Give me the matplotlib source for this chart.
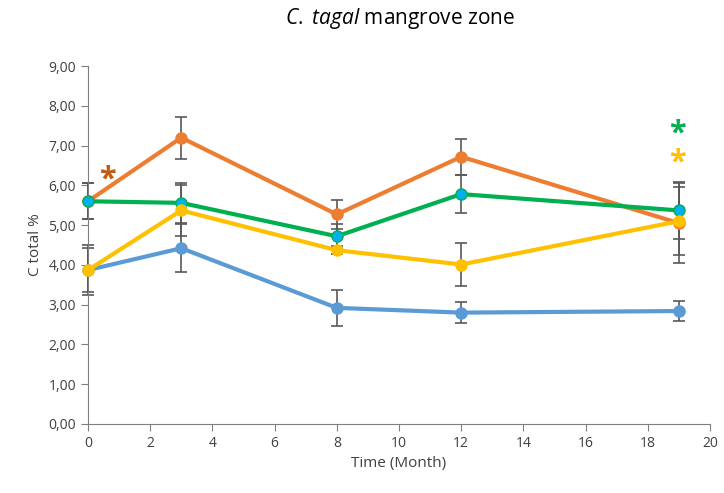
import matplotlib
matplotlib.use("Agg")
from matplotlib import pyplot as plt
from matplotlib.ticker import FuncFormatter

# ------------- Data ---------------

months = [0, 3, 8, 12, 19]

blue = [3.87, 4.42, 2.92, 2.80, 2.84]
blue_err = [0.62, 0.60, 0.45, 0.27, 0.25]

orange = [5.60, 7.20, 5.27, 6.72, 5.05]
orange_err = [0.45, 0.53, 0.36, 0.45, 1.00]

green = [5.60, 5.56, 4.72, 5.78, 5.37]
green_err = [0.45, 0.50, 0.30, 0.47, 0.72]

yellow = [3.87, 5.37, 4.37, 4.01, 5.10]
yellow_err = [0.55, 0.65, 0.10, 0.55, 0.86]

# ------------- Plot ---------------

plt.rcParams['font.family'] = ['Open Sans', 'DejaVu Sans']
plt.rcParams['mathtext.fontset'] = 'custom'
plt.rcParams['mathtext.it'] = 'Open Sans:italic'
plt.rcParams['mathtext.rm'] = 'Open Sans'

fig = plt.figure(figsize=(7.24, 4.93), dpi=100)
ax = fig.add_axes([0.1215, 0.14, 0.8592, 0.726])

series = [
	(blue, blue_err, '#5B9BD5', '#5B9BD5'),
	(orange, orange_err, '#ED7D31', '#ED7D31'),
	(green, green_err, '#00B050', '#00B0F0'),
	(yellow, yellow_err, '#FFC000', '#FFC000'),
]

for values, errs, color, face in series:
	ax.errorbar(months, values, yerr=errs, fmt='none', ecolor='#595959',
				elinewidth=1.2, capsize=4, capthick=1.2, zorder=2, clip_on=False)
	ax.plot(months, values, color=color, lw=3, marker='o', ms=8,
			mfc=face, mec=color, mew=1, zorder=3, clip_on=False)

ax.text(0.64, 6.15, '*', color='#C55A11', fontsize=22, fontweight='bold', ha='center', va='center')
ax.text(18.94, 7.3, '*', color='#00B050', fontsize=22, fontweight='bold', ha='center', va='center')
ax.text(18.94, 6.58, '*', color='#FFC000', fontsize=22, fontweight='bold', ha='center', va='center')

ax.set_xlim(0, 20)
ax.set_ylim(0, 9)
ax.set_xticks(range(0, 21, 2))
ax.set_yticks(range(0, 10))
ax.yaxis.set_major_formatter(FuncFormatter(lambda v, p: f'{v:.2f}'.replace('.', ',')))

for side in ['top', 'right']:
	ax.spines[side].set_visible(False)
for side in ['left', 'bottom']:
	ax.spines[side].set_color('#7F7F7F')
ax.tick_params(colors='#7F7F7F', labelcolor='#404040', labelsize=10, length=5)

ax.set_xlabel('Time (Month)', fontsize=11, color='#404040')
ax.set_ylabel('C total %', fontsize=11, color='#404040')
fig.text(0.553, 0.962, r'$\it{C.}$ $\it{tagal}$ mangrove zone', fontsize=15,
		 ha='center', va='center', color='#000000')

fig.savefig('out.png', dpi=100)
